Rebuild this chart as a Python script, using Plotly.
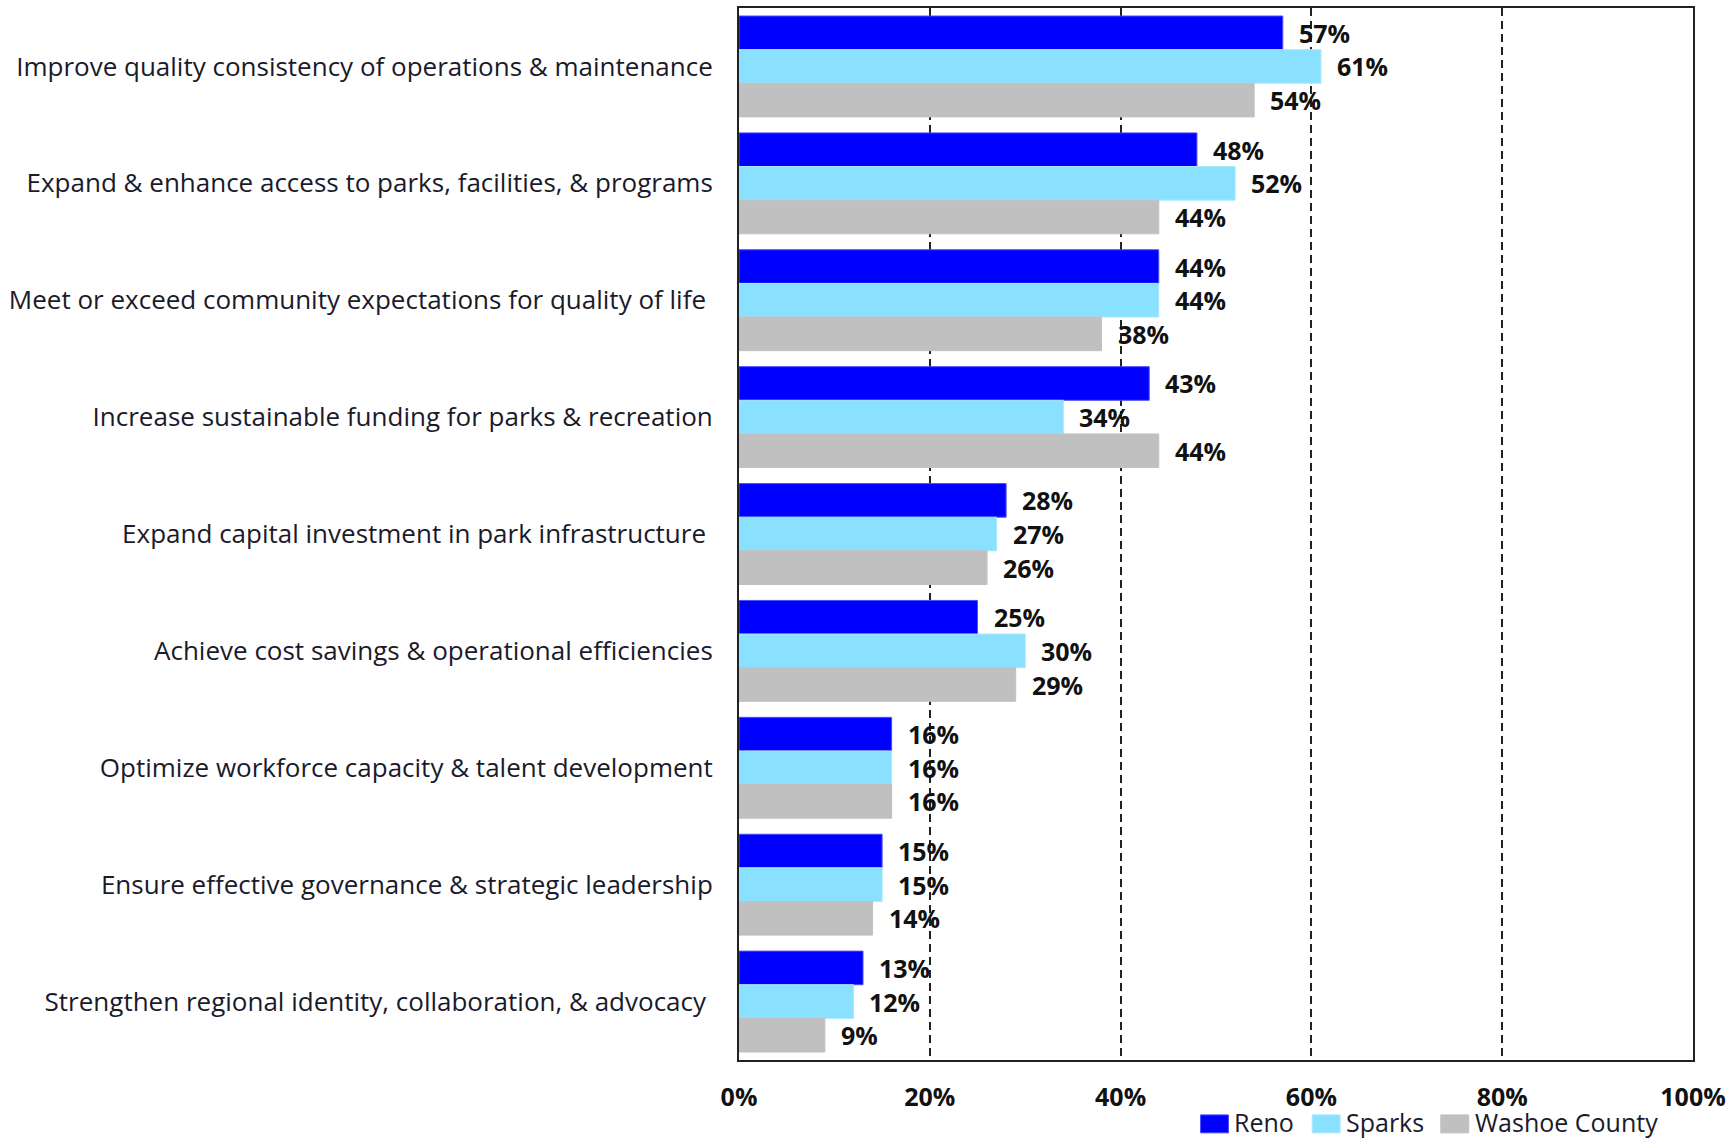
import plotly.graph_objects as go

# Survey results: share of respondents choosing each priority, by jurisdiction
categories = [
    "Improve quality consistency of operations & maintenance",
    "Expand & enhance access to parks, facilities, & programs",
    "Meet or exceed community expectations for quality of life\u00a0",
    "Increase sustainable funding for parks & recreation",
    "Expand capital investment in park infrastructure\u00a0",
    "Achieve cost savings & operational efficiencies",
    "Optimize workforce capacity & talent development",
    "Ensure effective governance & strategic leadership",
    "Strengthen regional identity, collaboration, & advocacy\u00a0",
]
series_names = ["Reno", "Sparks", "Washoe County"]
reno = [57, 48, 44, 43, 28, 25, 16, 15, 13]
sparks = [61, 52, 44, 34, 27, 30, 16, 15, 12]
washoe = [54, 44, 38, 44, 26, 29, 16, 14, 9]
series_values = [reno, sparks, washoe]
x_ticks = [0, 20, 40, 60, 80, 100]
x_tick_labels = ["0%", "20%", "40%", "60%", "80%", "100%"]

colors = ["#0000FF", "#89E0FF", "#C0C0C0"]
edge_colors = ["#4D4DFF", "#A8E9FF", "#C0C0C0"]

W, H = 1732, 1138
L, R, T, B = 739, 36, 6, 78
plot_w = W - L - R
plot_h = H - T - B

BARGAP = 0.137
bar_w = (1 - BARGAP) / len(series_names)
idx = list(range(len(categories)))

fig = go.Figure()
annotations = []
for k, (name, vals) in enumerate(zip(series_names, series_values)):
    offset = (k - (len(series_names) - 1) / 2) * bar_w
    ys = [i + offset for i in idx]
    fig.add_trace(go.Bar(
        x=vals, y=ys, orientation="h", width=bar_w, name=name,
        marker=dict(color=colors[k], line=dict(color=edge_colors[k], width=1)),
        showlegend=False, hoverinfo="x+name",
    ))
    for v, y in zip(vals, ys):
        annotations.append(dict(
            x=v, y=y, xref="x", yref="y", text=f"{v}%", showarrow=False,
            xanchor="left", yanchor="middle", xshift=14,
            font=dict(family="Open Sans", size=25, color="#111111", weight="bold"),
        ))


def px_x(px):
    return (px - L) / plot_w


def px_y(py):
    return (H - B - py) / plot_h


# Legend drawn as swatches with labels beneath the plot, right side
legend_left = [1202, 1314, 1443]
shapes = []
for k, name in enumerate(series_names):
    x0 = legend_left[k]
    shapes.append(dict(
        type="rect", xref="paper", yref="paper",
        x0=px_x(x0), x1=px_x(x0 + 28), y0=px_y(1133), y1=px_y(1115),
        fillcolor=colors[k], line=dict(width=1, color=edge_colors[k]),
    ))
    annotations.append(dict(
        x=px_x(x0 + 32), y=px_y(1122), xref="paper", yref="paper",
        text=name, showarrow=False, xanchor="left", yanchor="middle",
        font=dict(family="Open Sans", size=25, color="#1a1a2a"),
    ))

fig.update_layout(
    width=W, height=H,
    margin=dict(l=L, r=R, t=T, b=B, pad=0),
    paper_bgcolor="white", plot_bgcolor="white",
    barmode="overlay",
    annotations=annotations, shapes=shapes,
    font=dict(family="Open Sans", color="#111111"),
)

fig.update_xaxes(
    range=[0, 100], tickvals=x_ticks, ticktext=x_tick_labels,
    showgrid=True, gridcolor="#222222", gridwidth=1.5, griddash="8px,5px",
    showline=True, linecolor="#222222", linewidth=2, mirror=True,
    ticks="", zeroline=False,
    tickfont=dict(family="Open Sans", size=25, color="#111111", weight="bold"),
    ticklabelstandoff=14,
)
fig.update_yaxes(
    range=[len(categories) - 0.5, -0.5], tickvals=idx, ticktext=categories,
    showgrid=False, showline=True, linecolor="#222222", linewidth=2, mirror=True,
    ticks="", zeroline=False,
    tickfont=dict(family="Open Sans", size=26, color="#1a1a2a"),
    ticklabelstandoff=19,
)

fig.write_html("out.html")
